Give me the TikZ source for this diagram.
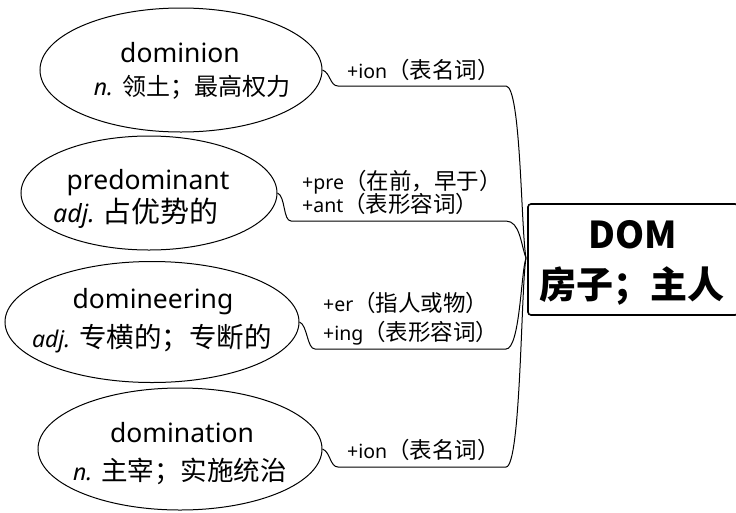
\documentclass[tikz,border=0pt]{standalone}
\usepackage{fontspec}
\setmainfont{Noto Sans}
\newfontfamily\cjk{Noto Sans CJK SC}
\usetikzlibrary{shapes.geometric}
\tikzset{
  word/.style={draw, ellipse, line width=1pt, inner sep=0pt},
  wl/.style={anchor=base, inner sep=0pt, font=\fontsize{26.5}{30}\selectfont},
  lab/.style={anchor=base west, inner sep=0pt,
    font=\fontsize{19.5}{24}\selectfont},
  link/.style={line width=1pt},
  rootbox/.style={draw, line width=1.6pt, rounded corners=3pt,
    minimum width=210pt, minimum height=111pt, inner sep=0pt},
  rl/.style={anchor=base, inner sep=0pt, font=\cjk\fontsize{37}{40}\selectfont\bfseries}
}
\newcommand{\zh}[1]{{\cjk\fontsize{22.5}{24}\selectfont #1}}
\newcommand{\zw}[2]{{\cjk\fontsize{#1}{28}\selectfont #2}}
\newcommand{\pos}[2][23]{{\fontsize{#1}{28}\selectfont\itshape #2}}
\begin{document}
\begin{tikzpicture}[x=1pt,y=-1pt]
\useasboundingbox (0,0) rectangle (736,512);
\clip (0,0) rectangle (736,512);
% root
\node[rootbox] (root) at (633,259.5) {};
\node[rl] (r1) at (633,248) {DOM};
\node[rl] (r2) at (632,298) {房子；主人};
\coordinate (hub) at (526,258);
% words
\node[word, minimum width=282pt, minimum height=124pt] (w1) at (181,70) {};
\node[word, minimum width=256pt, minimum height=114pt] (w2) at (149,193) {};
\node[word, minimum width=294pt, minimum height=121pt] (w3) at (152,322) {};
\node[word, minimum width=284pt, minimum height=122pt] (w4) at (180,449) {};
\node[wl] (t1a) at (180,62) {dominion};
\node[wl] (t1b) at (192,95) {\pos{n.} \zw{24}{领土；最高权力}};
\node[wl] (t2a) at (148,189) {predominant};
\node[wl] (t2b) at (136,222) {\pos[25]{adj.}\hspace{8pt}\zw{29}{占优势的}};
\node[wl] (t3a) at (153,308) {domineering};
\node[wl] (t3b) at (152,347) {\pos{adj.} \zw{27.5}{专横的；专断的}};
\node[wl] (t4a) at (182,442) {domination};
\node[wl] (t4b) at (180,480) {\pos{n.} \zw{26.5}{主宰；实施统治}};
% underline coordinates
\coordinate (a1) at (338,86);  \coordinate (b1) at (506,86);
\coordinate (a2) at (291,221); \coordinate (b2) at (506,221);
\coordinate (a3) at (315,349); \coordinate (b3) at (506,349);
\coordinate (a4) at (338,467); \coordinate (b4) at (506,467);
% labels
\node[lab] (l1) at (347,78) {+ion\zh{（表名词）}};
\node[lab] (l2a) at (302,189) {+pre\zh{（在前，早于）}};
\node[lab] (l2b) at (302,212) {+ant\zh{（表形容词）}};
\node[lab] (l3a) at (323,311) {+er\zh{（指人或物）}};
\node[lab] (l3b) at (323,340) {+ing\zh{（表形容词）}};
\node[lab] (l4) at (347,458) {+ion\zh{（表名词）}};
% connectors
\draw[link] (w1.east) .. controls ++(8,3) and ++(-8,0) .. (a1) -- (b1)
  .. controls (521,86) and (521,230) .. (hub);
\draw[link] (w2.east) .. controls ++(8,3) and ++(-8,0) .. (a2) -- (b2)
  .. controls (520,221) and (521,245) .. (hub);
\draw[link] (w3.east) .. controls ++(8,3) and ++(-8,0) .. (a3) -- (b3)
  .. controls (520,349) and (521,272) .. (hub);
\draw[link] (w4.east) .. controls ++(8,3) and ++(-8,0) .. (a4) -- (b4)
  .. controls (521,467) and (521,286) .. (hub);
\end{tikzpicture}
\end{document}
